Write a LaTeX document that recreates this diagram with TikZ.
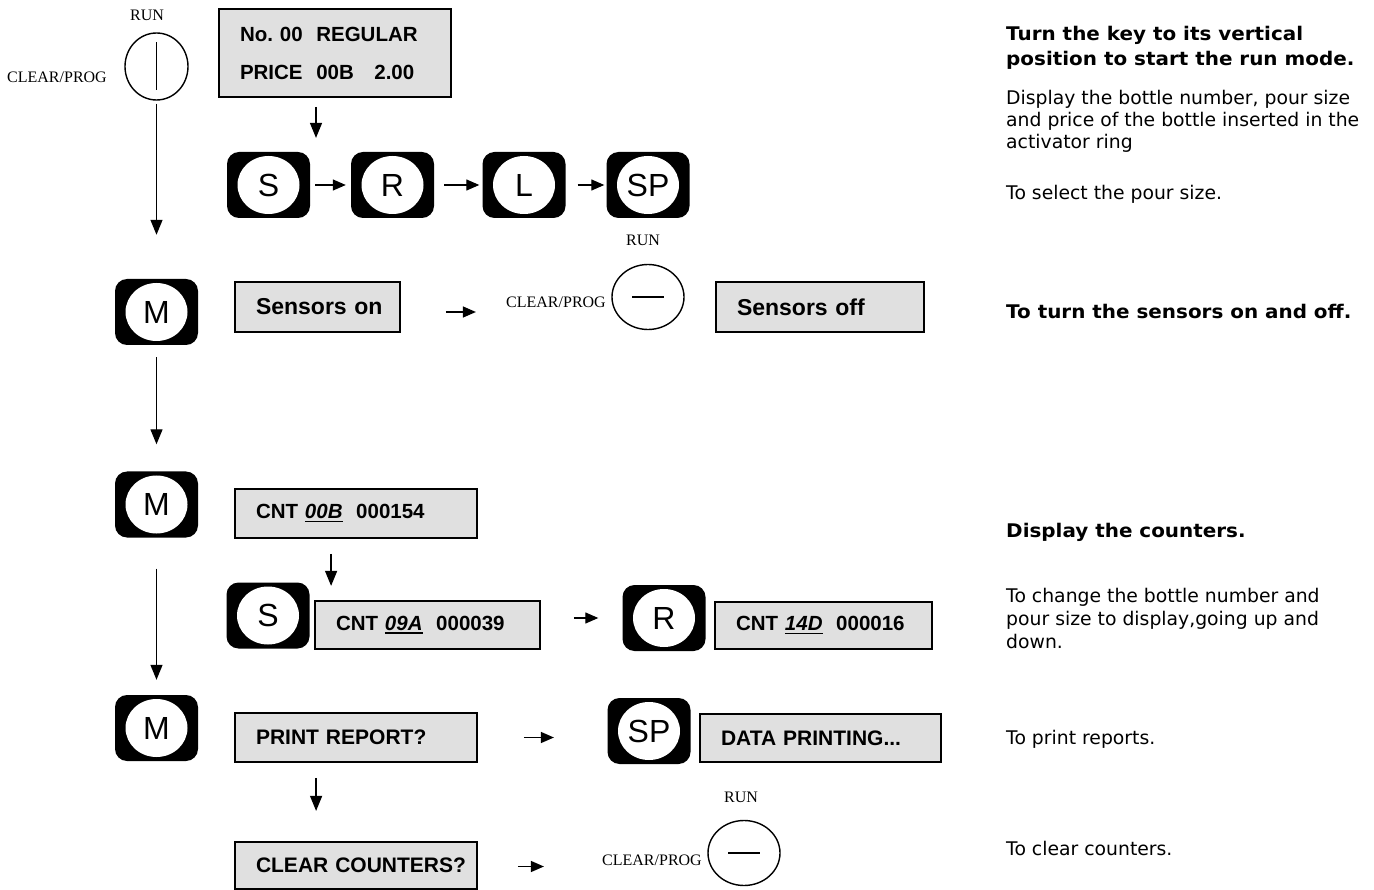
\documentclass[tikz,border=0pt]{standalone}
\usepackage{fontspec}
\setmainfont{Liberation Sans}
\newfontfamily\serifl{Liberation Serif}
\newfontfamily\dejav{DejaVu Sans}
\newfontfamily\dejavbold[FakeStretch=1.06]{DejaVu Sans Bold}
\usetikzlibrary{arrows.meta,calc,shapes.geometric}
\definecolor{boxgray}{RGB}{224,224,224}
\frenchspacing
\newcommand\myul[1]{\setbox0\hbox{#1}\rlap{\rule[-3.5pt]{\wd0}{1.8pt}}\box0}
\tikzset{
  arr/.style={line width=1.3pt,-{Triangle[length=15pt,width=12pt]}},
  harr/.style={line width=1.3pt,-{Triangle[length=13pt,width=11pt]}},
  box/.style={draw, line width=1.8pt, fill=boxgray, inner xsep=0pt, inner ysep=0pt,
    align=left, text width=#1, font=\bfseries, execute at begin node={\hspace*{21pt}}},
  keybtn/.style={fill=black, rounded corners=12pt, minimum width=83pt, minimum height=66pt,
    inner sep=0pt, font=\fontsize{32}{32}\selectfont,
    path picture={\fill[white] (path picture bounding box.center) ellipse [x radius=31pt, y radius=29pt];}},
  knob/.style={draw, line width=1.4pt, ellipse, minimum width=72pt, minimum height=65pt, inner sep=0pt},
  lab/.style={font=\serifl\fontsize{16}{16}\selectfont, inner sep=0pt},
  rt/.style={font=\dejav\fontsize{18.8}{22}\selectfont, anchor=base west, inner sep=0pt},
  rtb/.style={rt, font=\dejavbold\fontsize{18.8}{22}\selectfont},
}
\begin{document}
\begin{tikzpicture}[x=1pt,y=-1pt]
\useasboundingbox (0,0) rectangle (1374,890);

% --- top key
\node[lab] (run0) at (147,15) {RUN};
\node[lab] (clr0) at (57,77) {CLEAR/PROG};
\node[knob, minimum width=63pt, minimum height=67pt] (key0) at (156.5,66.5) {};
\draw[line width=1.4pt] ($(key0.center)+(0,-24)$) -- ($(key0.center)+(0,24)$);

% --- top display
\node[box=232pt, minimum height=88pt, font=\bfseries\fontsize{20.5}{24}\selectfont] (disp0) at (335,53)
  {No. 00\ \ REGULAR\\[14pt]\hspace*{21pt}PRICE\ \ 00B\ \ \ 2.00};
\draw[arr] ($(disp0.south)+(-19,9)$) -- ($(disp0.south)+(-19,40)$);

% --- key row
\node[keybtn] (kS) at (268.5,185) {S};
\node[keybtn] (kR) at (392.5,185) {R};
\node[keybtn] (kL) at (524,185) {L};
\node[keybtn] (kSP) at (648,185) {SP};
\draw[harr, shorten <=5pt, shorten >=5pt] (kS) -- (kR);
\draw[harr, shorten <=10pt, shorten >=3pt] (kR) -- (kL);
\draw[harr, shorten <=12pt, shorten >=2pt] (kL) -- (kSP);
\node[lab] (run1) at (643,240) {RUN};

% --- sensors row
\node[keybtn] (M1) at (156.5,312) {M};
\node[box=165pt, minimum height=50pt, font=\bfseries\fontsize{23}{26}\selectfont] (senson) at (317.5,307) {Sensors on};
\node[lab] (clr1) at (556,302) {CLEAR/PROG};
\node[knob] (key1) at (648,297) {};
\draw[line width=1.4pt] ($(key1.center)+(-16,0)$) -- ($(key1.center)+(16,0)$);
\node[box=208pt, minimum height=50pt, font=\bfseries\fontsize{23}{26}\selectfont] (sensoff) at (820,307) {Sensors off};
\draw[harr] ($(senson.east)+(45,5)$) -- ($(senson.east)+(75,5)$);

% --- left column
\draw[arr, shorten <=3pt, shorten >=44pt] (key0) -- (M1);
\node[keybtn] (M2) at (156.5,504.5) {M};
\node[keybtn] (M3) at (156.5,728) {M};
\draw[arr, shorten <=12pt, shorten >=27pt] (M1) -- (M2);
\draw[arr, shorten <=31pt, shorten >=15pt] (M2) -- (M3);

% --- counters
\node[box=242pt, minimum height=49pt, font=\bfseries\fontsize{20.5}{24}\selectfont] (cnt1) at (356,513.5)
  {CNT \myul{\textit{00B}}\ \ 000154};
\draw[arr] ($(cnt1.south west)+(97,15)$) -- ($(cnt1.south west)+(97,47)$);
\node[keybtn] (kS2) at (268,615.5) {S};
\node[box=225pt, minimum height=48pt, font=\bfseries\fontsize{20.5}{24}\selectfont] (cnt2) at (427.5,625)
  {CNT \myul{\textit{09A}}\ \ 000039};
\node[keybtn] (kR2) at (664,618) {R};
\node[box=217pt, minimum height=47pt, font=\bfseries\fontsize{20.5}{24}\selectfont] (cnt3) at (823.5,625.5)
  {CNT \myul{\textit{14D}}\ \ 000016};
\draw[harr, shorten <=33pt, shorten >=24pt] (cnt2.east |- kR2) -- (kR2);

% --- print
\node[box=242pt, minimum height=49pt, font=\bfseries\fontsize{21}{24}\selectfont] (prt) at (356,737.5) {PRINT REPORT?};
\node[keybtn] (kSP2) at (649,731) {SP};
\node[box=241pt, minimum height=48pt, font=\bfseries\fontsize{21}{24}\selectfont] (data) at (820.5,738) {DATA PRINTING...};
\draw[harr] ($(prt.east)+(46,0)$) -- ($(prt.east)+(76,0)$);
\draw[arr] ($(prt.south west)+(82,15)$) -- ($(prt.south west)+(82,48)$);
\node[box=242pt, minimum height=47pt, font=\bfseries\fontsize{21}{24}\selectfont] (clrc) at (356,865.5) {CLEAR COUNTERS?};
\draw[harr] ($(clrc.east)+(40,1)$) -- ($(clrc.east)+(66,1)$);
\node[lab] (run2) at (741,797) {RUN};
\node[lab] (clr2) at (652,860) {CLEAR/PROG};
\node[knob] (key2) at (744,853) {};
\draw[line width=1.4pt] ($(key2.center)+(-16,0)$) -- ($(key2.center)+(16,0)$);

% --- right texts
\node[rtb] (t1) at (1006,41) {Turn the key to its vertical};
\node[rtb] (t2) at (1006,66) {position to start the run mode.};
\node[rt] (t3) at (1006,105) {Display the bottle number, pour size};
\node[rt] (t4) at (1006,127) {and price of the bottle inserted in the};
\node[rt] (t5) at (1006,149) {activator ring};
\node[rt] (t6) at (1006,200) {To select the pour size.};
\node[rtb] (t7) at (1006,319) {To turn the sensors on and off.};
\node[rtb] (t8) at (1006,537) {Display the counters.};
\node[rt] (t9) at (1006,602) {To change the bottle number and};
\node[rt] (t10) at (1006,625) {pour size to display,going up and};
\node[rt] (t11) at (1006,648) {down.};
\node[rt] (t12) at (1006,744) {To print reports.};
\node[rt] (t13) at (1006,855) {To clear counters.};
\end{tikzpicture}
\end{document}
